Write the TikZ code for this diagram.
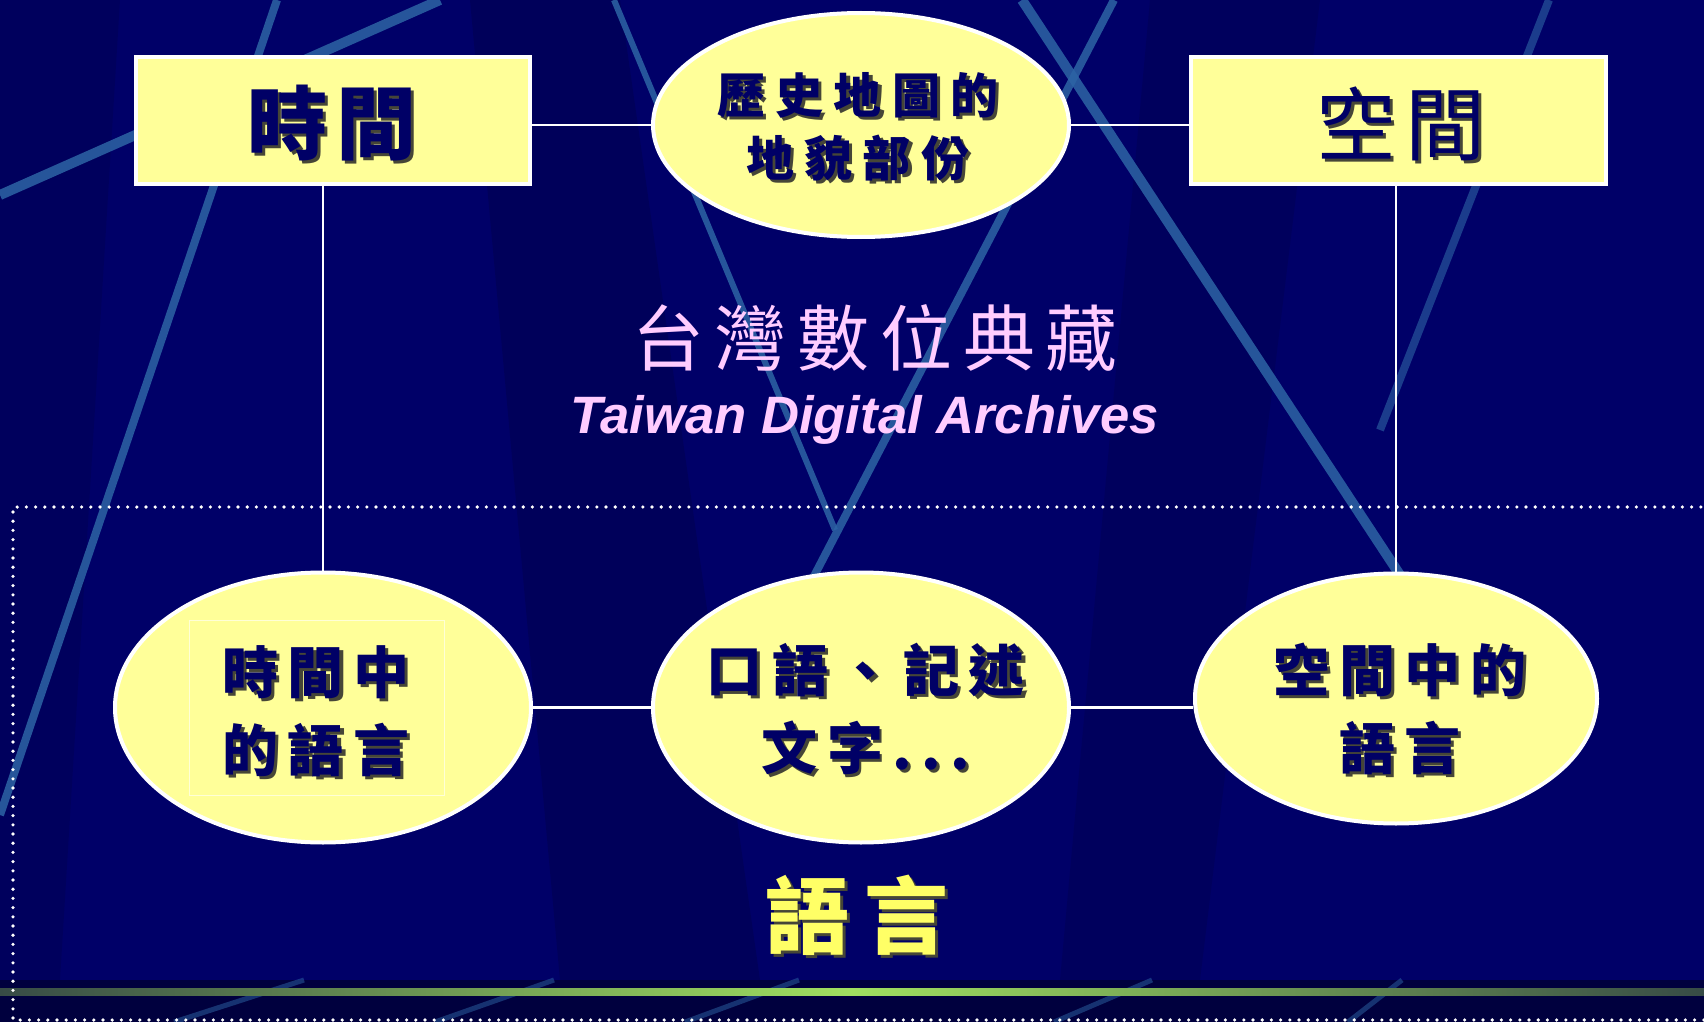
\documentclass[tikz,border=0pt]{standalone}
\usepackage{fontspec}
\setsansfont{Liberation Sans}
\newfontfamily\cjk{Noto Sans CJK TC}
\usetikzlibrary{shapes.geometric}

\definecolor{slide}{RGB}{0,0,104}
\definecolor{slidedark}{RGB}{0,0,62}
\definecolor{streak}{RGB}{45,100,165}
\definecolor{cream}{RGB}{255,255,153}
\definecolor{ink}{RGB}{0,0,102}
\definecolor{shade}{RGB}{70,70,55}
\definecolor{rose}{RGB}{255,204,255}
\definecolor{gold}{RGB}{255,255,102}
\definecolor{lime}{RGB}{160,224,96}
\definecolor{moss}{RGB}{55,75,70}

\def\sh#1{\rlap{\kern1.5pt\raisebox{-1.5pt}{\color{shade}#1}}#1}
\def\kai#1#2#3{\fontsize{#1}{#2}\selectfont\addfontfeature{LetterSpace=#3}}

\begin{document}
\begin{tikzpicture}[x=0.5pt,y=-0.5pt,
    streakline/.style={streak, line width=#1, opacity=0.85},
    bubble/.style={ellipse, draw=white, line width=2pt, fill=cream, inner sep=0pt},
    titlebox/.style={rectangle, draw=white, line width=2pt, fill=cream, inner sep=0pt,
      minimum height=63.5pt},
    link/.style={white, line width=1.3pt},
    inktext/.style={text=ink, align=center, inner sep=0pt}]
		%%%%% START %%%%%
		
		\useasboundingbox (0,0) rectangle (1704,1022);
		\clip (0,0) rectangle (1704,1022);
		\fill[slide] (0,0) rectangle (1704,1022);
		
		\fill[black, opacity=0.13] (470,0) -- (620,0) -- (760,980) -- (560,980) -- cycle;
		\fill[black, opacity=0.1] (1150,0) -- (1320,0) -- (1200,980) -- (1060,980) -- cycle;
		\fill[black, opacity=0.1] (0,0) -- (120,0) -- (60,980) -- (0,980) -- cycle;
		
		\draw[streakline=4pt] (277,0) -- (0,815);
		\draw[streakline=5pt] (0,195) -- (440,0);
		\draw[streakline=3pt] (614,0) -- (835,530);
		\draw[streakline=5pt] (1022,0) -- (1400,575);
		\draw[streakline=4pt] (1114,0) -- (812,580);
		\draw[streakline=4pt, opacity=0.6] (1549,0) -- (1380,430);
		
		\fill[slidedark] (0,980) rectangle (1704,1022);
		\foreach \a/\b in {174/304, 435/554, 685/799, 1054/1152, 1348/1402}
			\draw[streakline=2.5pt, opacity=0.5] (\a,1022) -- (\b,980);
		\shade[left color=moss, right color=moss, middle color=lime] (0,988) rectangle (1704,995);
		
		\draw[white, line width=1.8pt, line cap=round, dash pattern=on 0pt off 4.6pt]
			(1710,507) -- (13,507) -- (13,1020) -- (1710,1020);
		
		\node[titlebox, minimum width=197pt] (timebox) at (333,120.5) {};
		\node[titlebox, minimum width=207.5pt] (spacebox) at (1398.5,120.5) {};
		\node[bubble, minimum width=208pt, minimum height=112pt] (mapell) at (861,125) {};
		\node[bubble, minimum width=208pt, minimum height=135pt] (timelang) at (323,707.5) {};
		\node[bubble, minimum width=208pt, minimum height=135pt] (speech) at (861,707.5) {};
		\node[bubble, minimum width=201pt, minimum height=125pt] (spacelang) at (1396,698.5) {};
		\node[draw=white!60!cream, line width=0.7pt, minimum width=127.5pt, minimum height=87.5pt] (timeframe) at (317,708) {};
		
		\draw[link] (mapell.west -| timebox.east) -- (mapell.west);
		\draw[link] (mapell.east) -- (mapell.east -| spacebox.west);
		\draw[link] (timebox.south -| timelang.north) -- (timelang.north);
		\draw[link] (spacebox.south -| spacelang.north) -- (spacelang.north);
		\draw[link] (timelang.east) -- (speech.west);
		\draw[link] (speech.east) -- (speech.east -| spacelang.west);
		
		\node[inktext, font=\cjk\bfseries\kai{40}{48}{12}] (timetxt) at (332,125) {\sh{時間}};
		\node[inktext, font=\cjk\kai{40}{48}{12}] (spacetxt) at (1401,125) {\sh{空間}};
		\node[inktext, font=\cjk\bfseries\kai{24}{31.5}{21}] (maptxt) at (858,128.5) {\sh{歷史地圖的}\\\sh{地貌部份}};
		\node[inktext, font=\cjk\bfseries\kai{28}{39}{17}] (timelangtxt) at (316,713) {\sh{時間中}\\\sh{的語言}};
		\node[inktext, font=\cjk\bfseries\kai{28}{39}{17}] (speechtxt) at (866,710) {\sh{口語、記述}\\\sh{文字...}};
		\node[inktext, font=\cjk\bfseries\kai{28}{39}{17}] (spacelangtxt) at (1400,710) {\sh{空間中的}\\\sh{語言}};
		
		\node[text=rose, inner sep=0pt, font=\cjk\kai{36}{40}{15}] (titlecn) at (875,338) {台灣數位典藏};
		\node[text=rose, inner sep=0pt, anchor=base, font=\sffamily\bfseries\itshape\fontsize{26.3}{30}\selectfont] (titleen) at (864.5,433) {Taiwan Digital Archives};
		
		\node[text=gold, inner sep=0pt, font=\cjk\bfseries\kai{42}{48}{17}] (langtxt) at (857,917) {\sh{語言}};
		
		%%%%% END %%%%%
\end{tikzpicture}
\end{document}
